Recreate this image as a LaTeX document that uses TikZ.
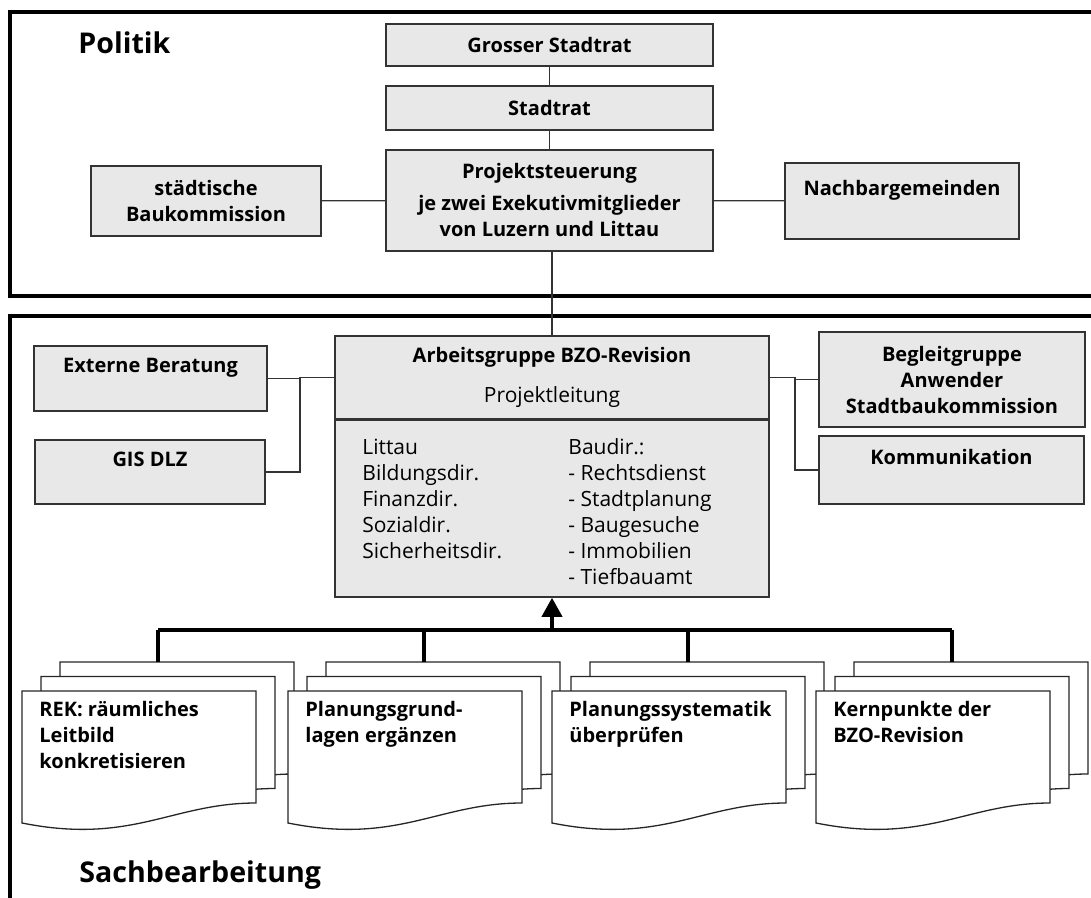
\documentclass[tikz,border=0pt]{standalone}
\usepackage{fontspec}
\setmainfont{Open Sans}
\usetikzlibrary{arrows.meta}

\begin{document}
\begin{tikzpicture}[x=0.5pt,y=-0.5pt,
        frame/.style={line width=2.2pt},
        box/.style={draw=black!80,line width=0.75pt,fill=black!9,align=center,
            inner sep=0pt,font=\fontsize{10}{13}\selectfont\bfseries},
        link/.style={draw=black!80,line width=0.6pt},
        bus/.style={line width=1.8pt},
        doc/.style={draw=black!85,line width=0.65pt,fill=white},
        doctext/.style={anchor=north west,align=left,inner sep=0pt,
            font=\fontsize{10}{13}\selectfont\bfseries},
        listtext/.style={anchor=north west,align=left,inner sep=0pt,
            font=\fontsize{10.5}{13}\selectfont},
        title/.style={anchor=base west,inner sep=0pt,
            font=\fontsize{14.3}{18}\selectfont\bfseries}]

        \clip (0,0) rectangle (1091,898);

        \draw[frame] (10,12) rectangle (1110,296);
        \draw[frame] (10,316) rectangle (1110,920);
        \node[title] (pol) at (78,54) {Politik};
        \node[title] (sach) at (79,882) {Sachbearbeitung};

        % Politik
        \node[box,minimum width=163.5pt,minimum height=21pt] (gs) at (549.5,45) {Grosser Stadtrat};
        \node[box,minimum width=163.5pt,minimum height=22pt] (sr) at (549.5,108) {Stadtrat};
        \node[box,minimum width=163.5pt,minimum height=50.5pt] (ps) at (549.5,200.5)
            {Projektsteuerung\\[3pt]je zwei Exekutivmitglieder\\von Luzern und Littau};
        \node[box,minimum width=115pt,minimum height=35pt] (sb) at (206,201) {städtische\\Baukommission};
        \node[box,minimum width=117pt,minimum height=38pt] (ng) at (902,201) {Nachbargemeinden\\~};
        \draw[link] (gs) -- (sr);
        \draw[link] (sr) -- (ps);
        \draw[link] (sb) -- (ps);
        \draw[link] (ps) -- (ng);

        % Sachbearbeitung
        \node[box,minimum width=217pt,minimum height=41.5pt] (agh) at (552,377.5)
            {Arbeitsgruppe BZO-Revision\\[7pt]\mdseries\fontsize{10.5}{13}\selectfont Projektleitung};
        \node[box,minimum width=217pt,minimum height=88.5pt] (agl) at (552,508.5) {};
        \node[listtext] (aglleft) at (362,438.5)
            {Littau\\Bildungsdir.\\Finanzdir.\\Sozialdir.\\Sicherheitsdir.};
        \node[listtext] (aglright) at (568,438.5)
            {Baudir.:\\- Rechtsdienst\\- Stadtplanung\\- Baugesuche\\- Immobilien\\- Tiefbauamt};
        \draw[link] (agh.north) -- (agh.north |- ps.south);

        \node[box,minimum width=116.5pt,minimum height=32.5pt] (eb) at (150.5,378.5)
            {Externe Beratung\hspace{9pt}\\~};
        \node[box,minimum width=115pt,minimum height=32pt] (gis) at (150,472) {GIS DLZ\\~};
        \node[box,minimum width=133pt,minimum height=47.5pt] (bg) at (952,379.5)
            {Begleitgruppe\\Anwender\\Stadtbaukommission};
        \node[box,minimum width=132.5pt,minimum height=34pt] (ko) at (951.5,470) {Kommunikation\\~};

        \coordinate (lj) at (300,0);
        \coordinate (rj) at (795,0);
        \draw[link] (agh.west) -- (agh.west -| lj) |- (gis.east);
        \draw[link] (eb.east) -- (eb.east -| lj);
        \draw[link] (agh.east) -- (agh.east -| rj) |- (ko.west);
        \draw[link] (bg.west) -- (bg.west -| rj);

        % Dokumente
        \coordinate (bus) at (0,630);
        \foreach \i/\x/\A in {
            1/22/{REK: räumliches\\Leitbild\\konkretisieren},
            2/288/{Planungsgrund-\\lagen ergänzen},
            3/552/{Planungssystematik\\überprüfen},
            4/816/{Kernpunkte der\\BZO-Revision}} {
            \foreach \k in {2,1,0} {
                \draw[doc] (\x+19*\k,691-14.5*\k) -- (\x+19*\k+234,691-14.5*\k)
                    -- (\x+19*\k+234,803-14.5*\k)
                    .. controls (\x+19*\k+150,803-14.5*\k) and (\x+19*\k+110,845-14.5*\k)
                    .. (\x+19*\k,823-14.5*\k) -- cycle;
            }
            \coordinate (top\i) at (\x+136,662);
            \draw[bus] (top\i) -- (top\i |- bus);
            \node[doctext] (t\i) at (\x+17,701) {\A};
        }
        \draw[bus] (top1 |- bus) -- (top4 |- bus);
        \draw[bus,-{Triangle[width=10pt,length=9.5pt]}] (agl.south |- bus) -- (agl.south);
    \end{tikzpicture}
\end{document}
